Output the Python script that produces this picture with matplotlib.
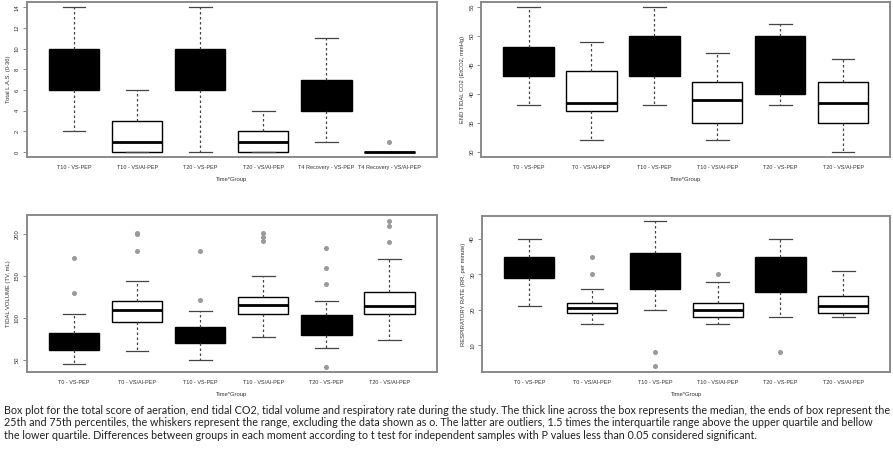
import matplotlib
matplotlib.use("Agg")
import matplotlib.pyplot as plt

# ---------------- data ----------------
las_labels = ["T10 - VS-PEP", "T10 - VS/AI-PEP", "T20 - VS-PEP", "T20 - VS/AI-PEP",
              "T4 Recovery - VS-PEP", "T4 Recovery - VS/AI-PEP"]
las_low = [2, 0, 0, 0, 1, 0]
las_q1 = [6, 0, 6, 0, 4, 0]
las_med = [8, 1, 8, 1, 5, 0]
las_q3 = [10, 3, 10, 2, 7, 0]
las_high = [14, 6, 14, 4, 11, 0]
las_out = [[], [], [], [], [], [1]]

grp_labels = ["T0 - VS-PEP", "T0 - VS/AI-PEP", "T10 - VS-PEP", "T10 - VS/AI-PEP",
              "T20 - VS-PEP", "T20 - VS/AI-PEP"]

co2_low = [38, 32, 38, 32, 38, 30]
co2_q1 = [43, 37, 43, 35, 40, 35]
co2_med = [45, 38.5, 46, 39, 45, 38.5]
co2_q3 = [48, 44, 50, 42, 50, 42]
co2_high = [55, 49, 55, 47, 52, 46]
co2_out = [[], [], [], [], [], []]

tv_low = [45, 61, 50, 78, 65, 74]
tv_q1 = [62, 95, 70, 105, 80, 105]
tv_med = [72, 110, 80, 116, 92, 115]
tv_q3 = [82, 120, 90, 125, 104, 131]
tv_high = [105, 144, 108, 150, 120, 170]
tv_out = [[172, 130], [200, 201, 180], [122, 180], [192, 197, 201],
          [184, 160, 141, 42], [190, 210, 215]]

rr_low = [21, 16, 20, 16, 18, 18]
rr_q1 = [29, 19, 26, 18, 25, 19]
rr_med = [32, 20.5, 31, 20, 30, 21]
rr_q3 = [35, 22, 36, 22, 35, 24]
rr_high = [40, 26, 45, 28, 40, 31]
rr_out = [[], [30, 35], [8, 4], [30], [8], []]

caption = ("Box plot for the total score of aeration, end tidal CO2, tidal volume and respiratory rate during the study. "
           "The thick line across the box represents the median, the ends of box represent the\n"
           "25th and 75th percentiles, the whiskers represent the range, excluding the data shown as o. "
           "The latter are outliers, 1.5 times the interquartile range above the upper quartile and bellow\n"
           "the lower quartile. Differences between groups in each moment according to t test for independent "
           "samples with P values less than 0.05 considered significant.")

FRAME = "#8a8a8a"
TXT = "#333333"


def make_stats(low, q1, med, q3, high, out):
    stats = []
    for i in range(len(med)):
        stats.append(dict(whislo=low[i], q1=q1[i], med=med[i], q3=q3[i],
                          whishi=high[i], fliers=out[i]))
    return stats


def draw_panel(ax, labels, stats, ylim, yticks, ylabel):
    # R-style: VS-PEP boxes filled black, VS/AI-PEP boxes white
    fills = ["black" if i % 2 == 0 else "white" for i in range(len(stats))]
    bp = ax.bxp(stats, positions=range(1, len(stats) + 1), widths=0.8,
                patch_artist=True, showfliers=True,
                boxprops=dict(edgecolor="black", linewidth=1.0),
                medianprops=dict(color="black", linewidth=2.0),
                whiskerprops=dict(color="#444444", linestyle=(0, (2, 2)), linewidth=0.9),
                capprops=dict(color="#444444", linewidth=0.9),
                flierprops=dict(marker="o", markersize=2.6, markerfacecolor="#9a9a9a",
                                markeredgecolor="#9a9a9a"))
    for patch, c in zip(bp["boxes"], fills):
        patch.set_facecolor(c)
    for cap in bp["caps"]:
        mid = cap.get_xdata().mean()
        cap.set_xdata([mid - 0.18, mid + 0.18])

    ax.set_xlim(0.25, len(stats) + 0.75)
    ax.set_ylim(*ylim)
    ax.set_yticks(yticks)
    ax.set_yticklabels([str(t) for t in yticks], rotation=90, va="center",
                       fontsize=4.2, color=TXT, family="Liberation Sans")
    ax.set_xticks(range(1, len(stats) + 1))
    ax.set_xticklabels(labels, fontsize=4.0, color=TXT, family="Liberation Sans")
    ax.tick_params(axis="both", length=3, width=0.7, color=FRAME, pad=2)
    ax.tick_params(axis="x", length=0, pad=6)
    ax.set_ylabel(ylabel, fontsize=4.2, color=TXT, family="Liberation Sans", labelpad=3)
    ax.set_xlabel("Time*Group", fontsize=4.2, color=TXT, family="Liberation Sans", labelpad=5)
    for s in ax.spines.values():
        s.set_color(FRAME)
        s.set_linewidth(1.4)


fig = plt.figure(figsize=(8.93, 4.5), dpi=100)

ax1 = fig.add_axes([0.030, 0.651, 0.459, 0.344])
ax2 = fig.add_axes([0.539, 0.651, 0.458, 0.344])
ax3 = fig.add_axes([0.030, 0.173, 0.459, 0.349])
ax4 = fig.add_axes([0.540, 0.173, 0.457, 0.347])

draw_panel(ax1, las_labels, make_stats(las_low, las_q1, las_med, las_q3, las_high, las_out),
           (-0.48, 14.48), [0, 2, 4, 6, 8, 10, 12, 14], "Total L.A.S. (0-36)")
draw_panel(ax2, grp_labels, make_stats(co2_low, co2_q1, co2_med, co2_q3, co2_high, co2_out),
           (29.1, 55.8), [30, 35, 40, 45, 50, 55], "END TIDAL CO2 (EtCO2, mmHg)")
draw_panel(ax3, grp_labels, make_stats(tv_low, tv_q1, tv_med, tv_q3, tv_high, tv_out),
           (35.7, 222.6), [50, 100, 150, 200], "TIDAL VOLUME (TV, mL)")
draw_panel(ax4, grp_labels, make_stats(rr_low, rr_q1, rr_med, rr_q3, rr_high, rr_out),
           (2.4, 46.5), [10, 20, 30, 40], "RESPIRATORY RATE (RR, per minute)")

fig.text(0.004, 0.060, caption, fontsize=7.75, color="#222222", family="Lato",
         va="center", ha="left", linespacing=1.22)

fig.savefig("out.png", dpi=100)
